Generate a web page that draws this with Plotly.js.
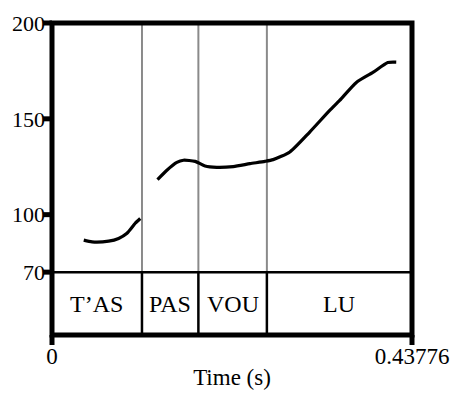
<!DOCTYPE html>
<html>
<head>
<meta charset="utf-8">
<script src="https://cdn.plot.ly/plotly-3.0.1.min.js"></script>
<style>html,body{margin:0;padding:0;background:#fff;}#chart{width:450px;height:398px;}</style>
</head>
<body>
<div id="chart"></div>
<script>
// pitch contour, segment 1 (time in s, pitch in Hz)
var seg1T = [0.0386, 0.0487, 0.0689, 0.0810, 0.0912, 0.1012, 0.1073];
var seg1F = [86.7, 85.8, 86.2, 87.6, 90.3, 95.5, 98.0];
// pitch contour, segment 2
var seg2T = [0.1283, 0.1397, 0.1518, 0.1598, 0.1740, 0.1861, 0.2003, 0.2204, 0.2407, 0.2589, 0.2689, 0.2892, 0.3134, 0.3377, 0.3498, 0.3701, 0.3902, 0.4084, 0.4186];
var seg2F = [118.3, 123.2, 127.3, 128.4, 127.8, 125.4, 124.7, 125.1, 126.6, 127.8, 128.7, 132.7, 143.1, 154.4, 159.6, 169.0, 174.2, 179.4, 179.6];
// syllable tier
var syllables = ["T\u2019AS", "PAS", "VOU", "LU"];
var boundaries = [0.1094, 0.178, 0.2613];
var tMax = 0.43776;
var xTickVals = [0, 0.43776];
var xTickText = ["0", "0.43776"];
var yTickVals = [70, 100, 150, 200];
var yTickText = ["70", "100", "150", "200"];
var fMin = 70, fMax = 200, tierBottom = 37.2;

var FONT = "'Liberation Serif', 'Times New Roman', serif";

var traces = [
  {x: seg1T, y: seg1F, mode: 'lines', line: {color: '#000', width: 3.2, shape: 'spline', smoothing: 0.6}, hoverinfo: 'skip', showlegend: false},
  {x: seg2T, y: seg2F, mode: 'lines', line: {color: '#000', width: 3.2, shape: 'spline', smoothing: 0.6}, hoverinfo: 'skip', showlegend: false}
];

var shapes = [];
boundaries.forEach(function (b) {
  shapes.push({type: 'line', xref: 'x', yref: 'y', x0: b, x1: b, y0: fMin, y1: fMax, line: {color: '#8a8a8a', width: 2}, layer: 'below'});
  shapes.push({type: 'line', xref: 'x', yref: 'y', x0: b, x1: b, y0: tierBottom, y1: fMin, line: {color: '#000', width: 2.5}});
});
shapes.push({type: 'line', xref: 'paper', yref: 'y', x0: 0, x1: 1, y0: fMin, y1: fMin, line: {color: '#000', width: 2.5}});
shapes.push({type: 'rect', xref: 'paper', yref: 'paper', x0: 0, x1: 1, y0: 0, y1: 1, line: {color: '#000', width: 5}});

var edges = [0].concat(boundaries).concat([tMax]);
var annotations = syllables.map(function (s, i) {
  return {x: (edges[i] + edges[i + 1]) / 2, y: (fMin + tierBottom) / 2, xref: 'x', yref: 'y', text: s, showarrow: false,
          font: {family: FONT, size: 24, color: '#000'}, xanchor: 'center', yanchor: 'middle'};
});

var layout = {
  width: 450, height: 398,
  margin: {l: 52, r: 38, t: 23, b: 63, pad: 0},
  paper_bgcolor: '#fff', plot_bgcolor: '#fff',
  showlegend: false,
  font: {family: FONT, color: '#000'},
  xaxis: {
    range: [0, tMax], showgrid: false, zeroline: false, showline: false,
    tickmode: 'array', tickvals: xTickVals, ticktext: xTickText,
    ticks: '', ticklabelstandoff: 5,
    tickfont: {family: FONT, size: 23, color: '#000'},
    title: {text: 'Time (s)', font: {family: FONT, size: 23, color: '#000'}, standoff: 0},
    automargin: false
  },
  yaxis: {
    range: [tierBottom, fMax], showgrid: false, zeroline: false, showline: false,
    tickmode: 'array', tickvals: yTickVals, ticktext: yTickText,
    ticks: '', ticklabelstandoff: 6,
    tickfont: {family: FONT, size: 22, color: '#000'},
    automargin: false
  },
  shapes: shapes,
  annotations: annotations
};

Plotly.newPlot('chart', traces, layout, {staticPlot: true, displayModeBar: false}).then(function (gd) {
  // thick tick stubs, placed with the axes' own scales, in paper units so they are not clipped
  var xa = gd._fullLayout.xaxis, ya = gd._fullLayout.yaxis;
  var stubs = [];
  xTickVals.forEach(function (v) {
    var fx = xa.l2p(v) / xa._length;
    stubs.push({type: 'line', xref: 'paper', yref: 'paper', x0: fx, x1: fx, y0: 0, y1: -10 / ya._length, line: {color: '#000', width: 5}});
  });
  yTickVals.forEach(function (v) {
    var fy = 1 - ya.l2p(v) / ya._length;
    stubs.push({type: 'line', xref: 'paper', yref: 'paper', x0: 0, x1: -9 / xa._length, y0: fy, y1: fy, line: {color: '#000', width: 5}});
  });
  return Plotly.relayout(gd, {shapes: shapes.concat(stubs)});
});
</script>
</body>
</html>
